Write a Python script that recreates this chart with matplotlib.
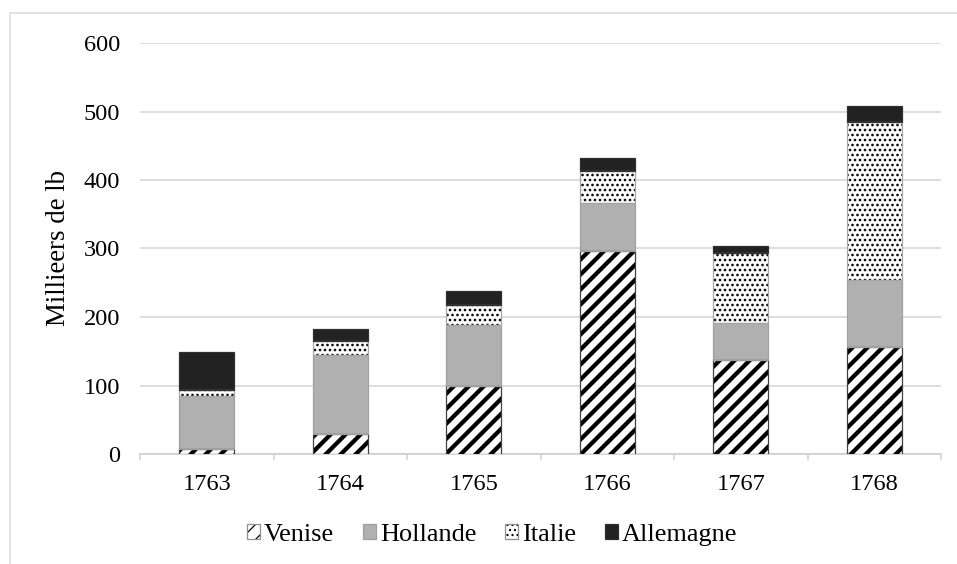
import matplotlib
matplotlib.use("Agg")
import matplotlib.pyplot as plt
from matplotlib.patches import Patch, Rectangle
from matplotlib.legend_handler import HandlerTuple
import numpy as np

years = ["1763", "1764", "1765", "1766", "1767", "1768"]
series_names = ["Venise", "Hollande", "Italie", "Allemagne"]
venise = [7, 29, 100, 296, 137, 156]
hollande = [78, 116, 88, 70, 54, 98]
italie = [8, 20, 29, 47, 102, 231]
allemagne = [56, 17, 21, 19, 11, 23]
yticks = [0, 100, 200, 300, 400, 500, 600]
ylabel = "Millieers de lb"

plt.rcParams['font.family'] = ['Liberation Serif', 'DejaVu Serif']

DPI = 90
fig = plt.figure(figsize=(957 / DPI, 564 / DPI), dpi=DPI)
ax = fig.add_axes([140 / 957, 1 - 454 / 564, 801 / 957, 411 / 564])

styles = [
    dict(face="white", hatch="//", hlw=3.4, edge="#404040"),
    dict(face="#b0b0b0", hatch=None, hlw=1.0, edge="#a0a0a0"),
    dict(face="white", hatch="...", hlw=1.3, edge="#a6a6a6"),
    dict(face="#222222", hatch=None, hlw=1.0, edge="#303030"),
]
data = [venise, hollande, italie, allemagne]
x = np.arange(len(years))
width = 0.41
bottom = np.zeros(len(years))


def hatched_patch_kwargs(st):
    return dict(facecolor=st['face'], edgecolor="black", linewidth=0, hatch=st['hatch'])


def set_hlw(p, lw):
    try:
        p.set_hatch_linewidth(lw)
    except AttributeError:
        pass


handles = []
for vals, st, name in zip(data, styles, series_names):
    with plt.rc_context({'hatch.linewidth': st['hlw']}):
        bars = ax.bar(x, vals, width, bottom=bottom, zorder=3, **hatched_patch_kwargs(st))
        for b in bars:
            set_hlw(b, st['hlw'])
        hp = Patch(**hatched_patch_kwargs(st))
        set_hlw(hp, st['hlw'])
    ax.bar(x, vals, width, bottom=bottom, fill=False, edgecolor=st['edge'],
           linewidth=1.0, zorder=4)
    op = Patch(fill=False, edgecolor=st['edge'] if st['hatch'] is None else "#909090", linewidth=1.0)
    handles.append((hp, op))
    bottom = bottom + np.array(vals)

ax.set_xlim(-0.5, len(years) - 0.5)
ax.set_ylim(0, 600)
ax.set_yticks(yticks)
ax.set_yticklabels([str(t) for t in yticks])
ax.set_xticks(x)
ax.set_xticklabels(years)
ax.set_xticks(np.arange(len(years) + 1) - 0.5, minor=True)
ax.tick_params(axis='x', which='major', length=0, pad=16, labelsize=19.5, colors="#000000")
ax.tick_params(axis='x', which='minor', length=5, width=1.2, color="#d0d0d0", direction='out')
ax.tick_params(axis='y', length=0, pad=16, labelsize=19.5)
ax.grid(axis='y', color="#d9d9d9", linewidth=1.4, zorder=0)
ax.set_axisbelow(True)
for s in ["left", "right", "top"]:
    ax.spines[s].set_visible(False)
ax.spines["bottom"].set_color("#d0d0d0")
ax.spines["bottom"].set_linewidth(1.4)
ax.set_ylabel(ylabel, fontsize=21.5, labelpad=10)

fig.legend(handles=handles, labels=series_names, loc="center",
           bbox_to_anchor=(492 / 957, 1 - 535 / 564),
           handler_map={tuple: HandlerTuple(ndivide=1, pad=0)},
           ncol=4, frameon=False, fontsize=21, handlelength=0.5, handleheight=0.5,
           handletextpad=0.15, columnspacing=1.1, borderpad=0)

fig.add_artist(Rectangle((10 / 957, -0.1), 1.2, 1.1 - 13 / 564, transform=fig.transFigure,
                         fill=False, edgecolor="#d9d9d9", linewidth=1.2))

fig.savefig("out.png", dpi=DPI)
